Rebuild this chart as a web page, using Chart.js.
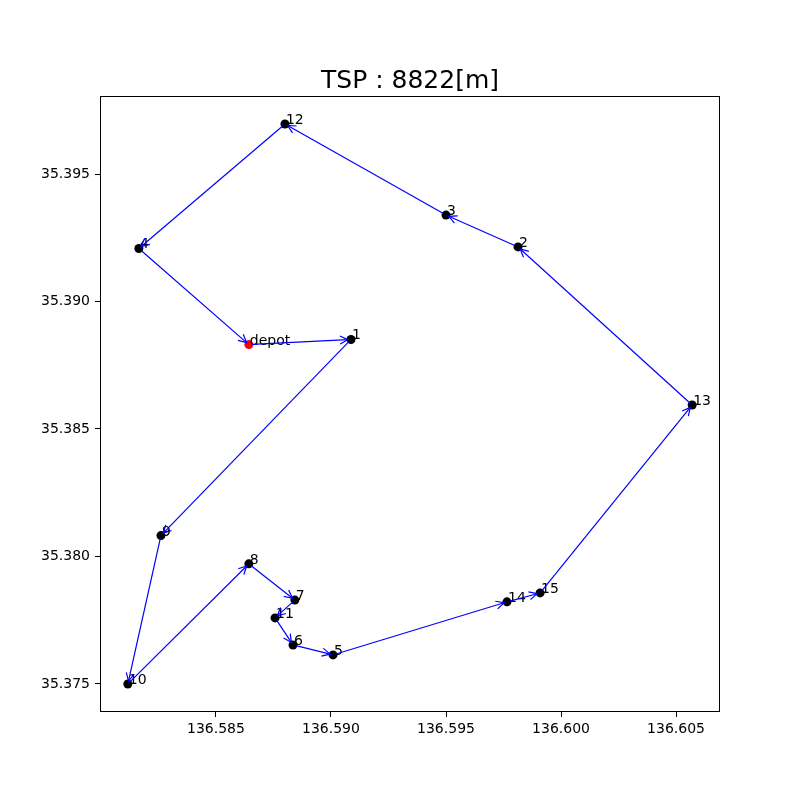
<!DOCTYPE html>
<html>
<head>
<meta charset="utf-8">
<script src="https://cdn.jsdelivr.net/npm/chart.js@4.4.0/dist/chart.umd.min.js"></script>
<style>
  html, body { margin: 0; padding: 0; background: #fff; }
  canvas { display: block; }
</style>
</head>
<body>
<canvas id="myChart" width="800" height="800"></canvas>
<script>
// nodes (longitude / latitude)
var names = ['depot', '1', '2', '3', '4', '5', '6', '7', '8', '9', '10', '11', '12', '13', '14', '15'];
var lon = [136.58643, 136.59087, 136.59813, 136.59500, 136.58165, 136.59009, 136.58835, 136.58843,
           136.58643, 136.58261, 136.58117, 136.58757, 136.58800, 136.60570, 136.59765, 136.59909];
var lat = [35.38831, 35.38851, 35.39214, 35.39339, 35.39208, 35.37614, 35.37653, 35.37829,
           35.37971, 35.38082, 35.37500, 35.37759, 35.39696, 35.38594, 35.37822, 35.37857];
// visiting order (indices into names)
var route = [0, 1, 9, 10, 8, 7, 11, 6, 5, 14, 15, 13, 2, 3, 12, 4, 0];
var xTicks = [136.585, 136.590, 136.595, 136.600, 136.605];
var yTicks = [35.375, 35.380, 35.385, 35.390, 35.395];
var titulo = 'TSP : 8822[m]';

var puntos = [];
var colores = [];
for (var i = 0; i < names.length; i++) {
    puntos.push({x: lon[i], y: lat[i]});
    colores.push(names[i] == 'depot' ? '#ff0000' : '#000000');
}

// labels + arrows drawn on top of the markers
var flechas = {
    id: 'flechas',
    afterDatasetsDraw: function(chart) {
        var ctx = chart.ctx;
        var sx = chart.scales.x, sy = chart.scales.y;
        ctx.save();
        ctx.font = '14px "DejaVu Sans"';
        ctx.fillStyle = '#000';
        ctx.textAlign = 'left';
        ctx.textBaseline = 'alphabetic';
        for (var i = 0; i < names.length; i++) {
            ctx.fillText(names[i], sx.getPixelForValue(lon[i]) + 1, sy.getPixelForValue(lat[i]));
        }
        ctx.strokeStyle = '#0000ff';
        ctx.lineWidth = 1.2;
        for (var k = 0; k < route.length - 1; k++) {
            var a = route[k], b = route[k + 1];
            var x1 = sx.getPixelForValue(lon[a]), y1 = sy.getPixelForValue(lat[a]);
            var x2 = sx.getPixelForValue(lon[b]), y2 = sy.getPixelForValue(lat[b]);
            var dx = x2 - x1, dy = y2 - y1;
            var len = Math.sqrt(dx * dx + dy * dy);
            var ux = dx / len, uy = dy / len;
            var ax = x1 + ux * 3, ay = y1 + uy * 3;
            var bx = x2 - ux * 3, by = y2 - uy * 3;
            ctx.beginPath();
            ctx.moveTo(ax, ay);
            ctx.lineTo(bx, by);
            ctx.stroke();
            var hl = 8, hw = 4;
            ctx.beginPath();
            ctx.moveTo(bx - ux * hl - uy * hw, by - uy * hl + ux * hw);
            ctx.lineTo(bx, by);
            ctx.lineTo(bx - ux * hl + uy * hw, by - uy * hl - ux * hw);
            ctx.stroke();
        }
        // box round the axes
        var ca = chart.chartArea;
        ctx.strokeStyle = '#000';
        ctx.lineWidth = 1;
        ctx.strokeRect(ca.left + 0.5, ca.top + 0.5, ca.right - ca.left - 1, ca.bottom - ca.top - 1);
        ctx.restore();
    }
};

var ctx = document.getElementById('myChart').getContext('2d');
var myChart = new Chart(ctx, {
    type: 'scatter',
    data: {
        datasets: [{
            data: puntos,
            pointRadius: 4.5,
            pointHoverRadius: 4.5,
            pointBorderWidth: 0,
            pointBackgroundColor: colores,
            pointBorderColor: colores,
            showLine: false
        }]
    },
    options: {
        responsive: false,
        animation: false,
        devicePixelRatio: 1,
        layout: { padding: { top: 61, right: 80, left: 0, bottom: 0 } },
        plugins: {
            legend: { display: false },
            tooltip: { enabled: false },
            title: {
                display: true,
                text: titulo,
                fullSize: false,
                color: '#000',
                font: { family: 'DejaVu Sans', size: 25, weight: 'normal', lineHeight: 1.2 },
                padding: { top: 5, bottom: 0 }
            }
        },
        scales: {
            x: {
                type: 'linear',
                min: 136.57996,
                max: 136.60691,
                afterBuildTicks: function(s) { s.ticks = xTicks.map(function(v) { return {value: v}; }); },
                afterFit: function(s) { s.height = 88; },
                grid: { display: true, drawOnChartArea: false, drawTicks: true, tickLength: 5, color: '#000' },
                border: { display: false },
                ticks: {
                    color: '#000',
                    padding: 4,
                    maxRotation: 0,
                    font: { family: 'DejaVu Sans', size: 14 },
                    callback: function(v) { return v.toFixed(3); }
                }
            },
            y: {
                type: 'linear',
                min: 35.37390,
                max: 35.39806,
                afterBuildTicks: function(s) { s.ticks = yTicks.map(function(v) { return {value: v}; }); },
                afterFit: function(s) { s.width = 100; },
                grid: { display: true, drawOnChartArea: false, drawTicks: true, tickLength: 5, color: '#000' },
                border: { display: false },
                ticks: {
                    color: '#000',
                    padding: 5,
                    font: { family: 'DejaVu Sans', size: 14 },
                    callback: function(v) { return v.toFixed(3); }
                }
            }
        }
    },
    plugins: [flechas]
});
</script>
</body>
</html>
